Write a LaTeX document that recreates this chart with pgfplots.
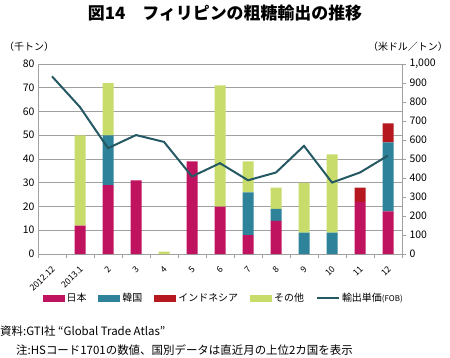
\documentclass[border=0pt]{standalone}
\usepackage{pgfplots}
\pgfplotsset{compat=1.18}
\usepackage{pgfplotstable}
\usepackage{fontspec}
\setmainfont{Noto Sans CJK JP}
\definecolor{cjp}{HTML}{C0135F}
\definecolor{ckr}{HTML}{2E8299}
\definecolor{cid}{HTML}{B5191F}
\definecolor{cot}{HTML}{C8DC6C}
\definecolor{cln}{HTML}{245862}
\definecolor{cgr}{HTML}{A0A0A0}
\pgfplotstableread{
x jp kr id ot
0 0 0 0 0
1 12 0 0 38
2 29 21 0 22
3 31 0 0 0
4 0 0 0 1
5 39 0 0 0
6 20 0 0 51
7 8 18 0 13
8 14 5 0 9
9 0 9 0 21
10 0 9 0 33
11 22 0 6 0
12 18 29 8 0
}\bars
\pgfplotstableread{
x p
0 935
1 773
2 557
3 626
4 590
5 408
6 478
7 388
8 429
9 569
10 376
11 429
12 518
}\price
\begin{document}
\begin{tikzpicture}
\useasboundingbox (0,0) rectangle (450bp,-358bp);
\node[anchor=north] at (225bp,-1bp) {\fontsize{17}{20}\selectfont\bfseries 図14　フィリピンの粗糖輸出の推移};
\node[anchor=west,inner sep=0] at (4bp,-47bp) {\fontsize{10}{12}\selectfont （千トン）};
\node[anchor=east,inner sep=0] at (448bp,-47bp) {\fontsize{10}{12}\selectfont （米ドル／トン）};
\begin{axis}[
  at={(38bp,-254bp)}, anchor=south west,
  width=364bp, height=190bp, scale only axis,
  xmin=-0.5, xmax=12.5, ymin=0, ymax=80,
  ytick={0,10,...,80},
  xtick={-0.03,0.97,1.97,2.97,3.97,4.97,5.97,6.97,7.97,8.97,9.97,10.97,11.97},
  xticklabels={2012.12,2013.1,2,3,4,5,6,7,8,9,10,11,12},
  minor xtick={-0.5,0.5,...,12.5},
  major tick length=0pt,
  minor tick length=4bp,
  tick align=outside,
  xtick pos=bottom, ytick pos=left,
  tick style={cgr},
  minor tick style={cgr},
  axis line style={cgr},
  ymajorgrids, grid style={cgr, line width=0.8pt},
  ticklabel style={font=\fontsize{10.5}{12}\selectfont},
  xticklabel shift=11bp,
  xticklabel style={rotate=45, anchor=north east, inner sep=0pt, font=\fontsize{8.7}{10}\selectfont},
  /pgf/number format/assume math mode=true,
  ybar stacked, bar width=11bp,
  legend columns=5,
  legend style={at={(0.51,-0.232)}, anchor=center, draw=none, fill=none,
    font=\fontsize{10}{12}\selectfont, /tikz/every even column/.append style={column sep=10bp}},
  legend image code/.code={\fill[#1] (0bp,-3.5bp) rectangle (22bp,3.5bp);},
]
\addplot[fill=cjp, draw=none] table[x=x,y=jp]{\bars};
\addlegendentry{日本}
\addplot[fill=ckr, draw=none] table[x=x,y=kr]{\bars};
\addlegendentry{韓国}
\addplot[fill=cid, draw=none] table[x=x,y=id]{\bars};
\addlegendentry{インドネシア}
\addplot[fill=cot, draw=none] table[x=x,y=ot]{\bars};
\addlegendentry{その他}
\addlegendimage{legend image code/.code={\draw[cln, line width=2pt] (0bp,0bp) -- (22bp,0bp);}}
\addlegendentry{輸出単価{\fontsize{8}{10}\selectfont (FOB)}}
\end{axis}
\begin{axis}[
  at={(38bp,-254bp)}, anchor=south west,
  width=364bp, height=190bp, scale only axis,
  xmin=-0.5, xmax=12.5, ymin=0, ymax=1000,
  ytick={0,100,...,1000},
  axis x line=none,
  axis y line*=right,
  y axis line style={cgr},
  ytick style={cgr},
  major tick length=4bp, tick align=outside,
  ticklabel style={font=\fontsize{10.5}{12}\selectfont},
  /pgf/number format/assume math mode=true,
  /pgf/number format/1000 sep={,},
  scaled y ticks=false,
]
\addplot[cln, line width=2pt, mark=none] table[x=x,y=p]{\price};
\end{axis}
\node[anchor=west,inner sep=0] at (0bp,-331bp) {\fontsize{11.5}{13}\selectfont 資料:GTI社 “Global Trade Atlas”};
\node[anchor=west,inner sep=0] at (16bp,-350bp) {\fontsize{11.5}{13}\selectfont 注:HSコード1701の数値、国別データは直近月の上位2カ国を表示};
\end{tikzpicture}
\end{document}
